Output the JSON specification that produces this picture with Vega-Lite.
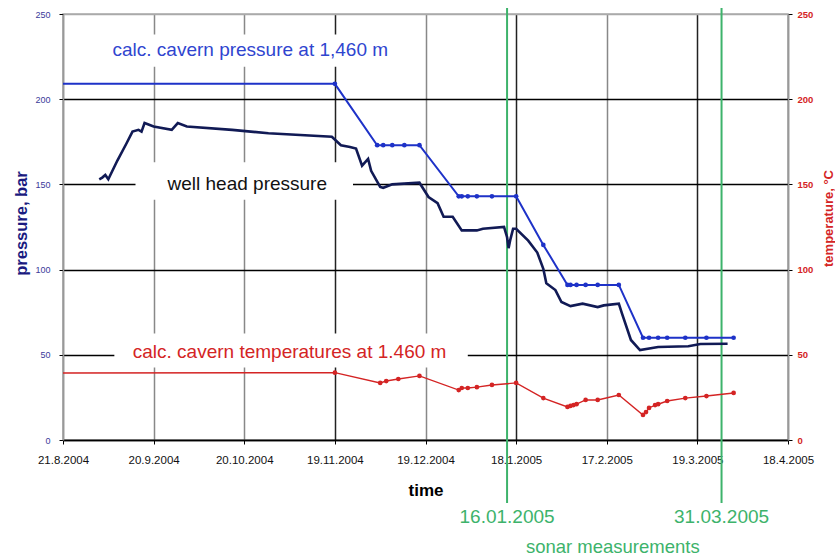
{
"$schema": "https://vega.github.io/schema/vega-lite/v6.json",
"width": 725,
"height": 426,
"autosize": {"type": "none"},
"padding": {"left": 63, "top": 14, "right": 47, "bottom": 118},
"background": "white",
"config": {
  "view": {"stroke": "#aaaaaa", "strokeWidth": 1.5},
  "font": "Liberation Sans",
  "axis": {"labelFont": "Liberation Sans", "titleFont": "Liberation Sans"},
  "text": {"font": "Liberation Sans"}
},
"data": {"values": [
{"series":"cavern","date":"2004-08-21","value":209},
{"series":"cavern","date":"2004-11-19","value":209},
{"series":"cavern","date":"2004-12-03","value":173},
{"series":"cavern","date":"2004-12-05","value":173},
{"series":"cavern","date":"2004-12-08","value":173},
{"series":"cavern","date":"2004-12-12","value":173},
{"series":"cavern","date":"2004-12-17","value":173},
{"series":"cavern","date":"2004-12-30","value":143},
{"series":"cavern","date":"2004-12-31","value":143},
{"series":"cavern","date":"2005-01-02","value":143},
{"series":"cavern","date":"2005-01-05","value":143},
{"series":"cavern","date":"2005-01-10","value":143},
{"series":"cavern","date":"2005-01-18","value":143},
{"series":"cavern","date":"2005-01-27","value":114.5},
{"series":"cavern","date":"2005-02-04","value":91},
{"series":"cavern","date":"2005-02-05","value":91},
{"series":"cavern","date":"2005-02-07","value":91},
{"series":"cavern","date":"2005-02-10","value":91},
{"series":"cavern","date":"2005-02-14","value":91},
{"series":"cavern","date":"2005-02-21","value":91},
{"series":"cavern","date":"2005-03-01","value":60},
{"series":"cavern","date":"2005-03-03","value":60},
{"series":"cavern","date":"2005-03-06","value":60},
{"series":"cavern","date":"2005-03-09","value":60},
{"series":"cavern","date":"2005-03-15","value":60},
{"series":"cavern","date":"2005-03-22","value":60},
{"series":"cavern","date":"2005-03-31","value":60},
{"series":"wellhead","date":"2004-09-02","value":153},
{"series":"wellhead","date":"2004-09-03","value":154},
{"series":"wellhead","date":"2004-09-04","value":155.5},
{"series":"wellhead","date":"2004-09-05","value":153},
{"series":"wellhead","date":"2004-09-08","value":164},
{"series":"wellhead","date":"2004-09-11","value":174},
{"series":"wellhead","date":"2004-09-13","value":181},
{"series":"wellhead","date":"2004-09-15","value":182},
{"series":"wellhead","date":"2004-09-16","value":181},
{"series":"wellhead","date":"2004-09-17","value":186},
{"series":"wellhead","date":"2004-09-20","value":184},
{"series":"wellhead","date":"2004-09-26","value":182},
{"series":"wellhead","date":"2004-09-28","value":186},
{"series":"wellhead","date":"2004-10-01","value":184},
{"series":"wellhead","date":"2004-10-16","value":182},
{"series":"wellhead","date":"2004-10-28","value":180},
{"series":"wellhead","date":"2004-11-18","value":178},
{"series":"wellhead","date":"2004-11-21","value":173},
{"series":"wellhead","date":"2004-11-24","value":172},
{"series":"wellhead","date":"2004-11-26","value":171},
{"series":"wellhead","date":"2004-11-28","value":161},
{"series":"wellhead","date":"2004-11-30","value":165},
{"series":"wellhead","date":"2004-12-01","value":158},
{"series":"wellhead","date":"2004-12-04","value":148.5},
{"series":"wellhead","date":"2004-12-05","value":148},
{"series":"wellhead","date":"2004-12-08","value":150},
{"series":"wellhead","date":"2004-12-17","value":151},
{"series":"wellhead","date":"2004-12-20","value":142.6},
{"series":"wellhead","date":"2004-12-23","value":139},
{"series":"wellhead","date":"2004-12-25","value":131},
{"series":"wellhead","date":"2004-12-28","value":131},
{"series":"wellhead","date":"2004-12-31","value":123},
{"series":"wellhead","date":"2005-01-05","value":123},
{"series":"wellhead","date":"2005-01-07","value":124},
{"series":"wellhead","date":"2005-01-14","value":125},
{"series":"wellhead","date":"2005-01-15","value":119},
{"series":"wellhead","date":"2005-01-15T12:00:00Z","value":112.6},
{"series":"wellhead","date":"2005-01-16","value":117},
{"series":"wellhead","date":"2005-01-17","value":124},
{"series":"wellhead","date":"2005-01-18","value":124},
{"series":"wellhead","date":"2005-01-22","value":117},
{"series":"wellhead","date":"2005-01-25","value":110},
{"series":"wellhead","date":"2005-01-27","value":100.5},
{"series":"wellhead","date":"2005-01-28","value":92},
{"series":"wellhead","date":"2005-01-31","value":88},
{"series":"wellhead","date":"2005-02-02","value":81},
{"series":"wellhead","date":"2005-02-05","value":78.6},
{"series":"wellhead","date":"2005-02-09","value":80},
{"series":"wellhead","date":"2005-02-14","value":78},
{"series":"wellhead","date":"2005-02-16","value":79},
{"series":"wellhead","date":"2005-02-21","value":80},
{"series":"wellhead","date":"2005-02-22","value":74.5},
{"series":"wellhead","date":"2005-02-25","value":58.7},
{"series":"wellhead","date":"2005-02-28","value":52.8},
{"series":"wellhead","date":"2005-03-06","value":54.6},
{"series":"wellhead","date":"2005-03-16","value":55},
{"series":"wellhead","date":"2005-03-20","value":56.3},
{"series":"wellhead","date":"2005-03-29","value":56.5},
{"series":"temperature","date":"2004-08-21","value":39.3},
{"series":"temperature","date":"2004-11-19","value":39.5},
{"series":"temperature","date":"2004-12-04","value":33.5},
{"series":"temperature","date":"2004-12-06","value":34.6},
{"series":"temperature","date":"2004-12-10","value":35.8},
{"series":"temperature","date":"2004-12-17","value":37.6},
{"series":"temperature","date":"2004-12-30","value":29.3},
{"series":"temperature","date":"2004-12-31","value":30.5},
{"series":"temperature","date":"2005-01-02","value":30.5},
{"series":"temperature","date":"2005-01-05","value":31},
{"series":"temperature","date":"2005-01-10","value":32.3},
{"series":"temperature","date":"2005-01-18","value":33.5},
{"series":"temperature","date":"2005-01-27","value":24.6},
{"series":"temperature","date":"2005-02-04","value":19.4},
{"series":"temperature","date":"2005-02-05","value":20},
{"series":"temperature","date":"2005-02-06","value":20.5},
{"series":"temperature","date":"2005-02-07","value":21},
{"series":"temperature","date":"2005-02-10","value":23.5},
{"series":"temperature","date":"2005-02-14","value":23.5},
{"series":"temperature","date":"2005-02-21","value":26.4},
{"series":"temperature","date":"2005-03-01","value":14.7},
{"series":"temperature","date":"2005-03-02","value":16.4},
{"series":"temperature","date":"2005-03-03","value":18.8},
{"series":"temperature","date":"2005-03-05","value":20.5},
{"series":"temperature","date":"2005-03-06","value":21},
{"series":"temperature","date":"2005-03-09","value":22.9},
{"series":"temperature","date":"2005-03-15","value":24.6},
{"series":"temperature","date":"2005-03-22","value":25.8},
{"series":"temperature","date":"2005-03-31","value":27.6}
]},
"layer": [
{
  "layer": [
    {
      "data": {"values": [{}]},
      "mark": {"type": "rect", "color": "white"},
      "encoding": {
        "x": {"datum": {"year":2004,"month":9,"date":2,"utc":true}, "type": "temporal"},
        "x2": {"datum": {"year":2004,"month":12,"date":10,"utc":true}},
        "y": {"datum": 219, "type": "quantitative"},
        "y2": {"datum": 238}
      }
    },
    {
      "data": {"values": [{}]},
      "mark": {"type": "rect", "color": "white"},
      "encoding": {
        "x": {"datum": {"year":2004,"month":9,"date":14,"utc":true}, "type": "temporal"},
        "x2": {"datum": {"year":2004,"month":11,"date":25,"utc":true}},
        "y": {"datum": 141, "type": "quantitative"},
        "y2": {"datum": 163}
      }
    },
    {
      "data": {"values": [{}]},
      "mark": {"type": "rect", "color": "white"},
      "encoding": {
        "x": {"datum": {"year":2004,"month":9,"date":7,"utc":true}, "type": "temporal"},
        "x2": {"datum": {"year":2005,"month":1,"date":2,"utc":true}},
        "y": {"datum": 42.5, "type": "quantitative"},
        "y2": {"datum": 62.5}
      }
    },
    {
      "data": {"values": [{}]},
      "mark": {"type": "rule", "color": "#3db36b", "strokeWidth": 2},
      "encoding": {
        "x": {"datum": {"year":2005,"month":1,"date":15,"utc":true}, "type": "temporal"},
        "y": {"datum": 253.5, "type": "quantitative", "scale": {"domain": [0, 250], "nice": false}},
        "y2": {"datum": -37}
      }
    },
    {
      "data": {"values": [{}]},
      "mark": {"type": "rule", "color": "#3db36b", "strokeWidth": 2},
      "encoding": {
        "x": {"datum": {"year":2005,"month":3,"date":27,"utc":true}, "type": "temporal"},
        "y": {"datum": 253.5, "type": "quantitative"},
        "y2": {"datum": -37}
      }
    },
    {
      "data": {"values": [{}]},
      "mark": {"type": "text", "text": "calc. cavern pressure at 1,460 m", "color": "#2f45cf", "fontSize": 19, "align": "center", "baseline": "middle"},
      "encoding": {
        "x": {"datum": {"year":2004,"month":10,"date":22,"utc":true}, "type": "temporal"},
        "y": {"datum": 229, "type": "quantitative"}
      }
    },
    {
      "data": {"values": [{}]},
      "mark": {"type": "text", "text": "well head pressure", "color": "#111111", "fontSize": 19, "align": "center", "baseline": "middle"},
      "encoding": {
        "x": {"datum": {"year":2004,"month":10,"date":21,"utc":true}, "type": "temporal"},
        "y": {"datum": 150, "type": "quantitative"}
      }
    },
    {
      "data": {"values": [{}]},
      "mark": {"type": "text", "text": "calc. cavern temperatures at 1.460 m", "color": "#d42424", "fontSize": 19, "align": "center", "baseline": "middle"},
      "encoding": {
        "x": {"datum": {"year":2004,"month":11,"date":4,"utc":true}, "type": "temporal"},
        "y": {"datum": 51.5, "type": "quantitative"}
      }
    },
    {
      "data": {"values": [{}]},
      "mark": {"type": "text", "text": "16.01.2005", "color": "#3db36b", "fontSize": 19, "align": "center", "baseline": "middle"},
      "encoding": {
        "x": {"datum": {"year":2005,"month":1,"date":15,"utc":true}, "type": "temporal"},
        "y": {"datum": -45, "type": "quantitative"}
      }
    },
    {
      "data": {"values": [{}]},
      "mark": {"type": "text", "text": "31.03.2005", "color": "#3db36b", "fontSize": 19, "align": "center", "baseline": "middle"},
      "encoding": {
        "x": {"datum": {"year":2005,"month":3,"date":27,"utc":true}, "type": "temporal"},
        "y": {"datum": -45, "type": "quantitative"}
      }
    },
    {
      "data": {"values": [{}]},
      "mark": {"type": "text", "text": "sonar measurements", "color": "#3db36b", "fontSize": 18.5, "align": "center", "baseline": "middle"},
      "encoding": {
        "x": {"datum": {"year":2005,"month":2,"date":19,"utc":true}, "type": "temporal"},
        "y": {"datum": -63, "type": "quantitative"}
      }
    },
    {
      "transform": [{"filter": "datum.series === 'cavern'"}],
      "mark": {"type": "line", "color": "#1e32c8", "strokeWidth": 2},
      "encoding": {
        "x": {
          "field": "date", "type": "temporal",
          "scale": {"type": "utc", "nice": false, "domain": [{"year":2004,"month":8,"date":21,"utc":true}, {"year":2005,"month":4,"date":18,"utc":true}]},
          "axis": {
            "values": [
              {"year":2004,"month":8,"date":21,"utc":true},
              {"year":2004,"month":9,"date":20,"utc":true},
              {"year":2004,"month":10,"date":20,"utc":true},
              {"year":2004,"month":11,"date":19,"utc":true},
              {"year":2004,"month":12,"date":19,"utc":true},
              {"year":2005,"month":1,"date":18,"utc":true},
              {"year":2005,"month":2,"date":17,"utc":true},
              {"year":2005,"month":3,"date":19,"utc":true},
              {"year":2005,"month":4,"date":18,"utc":true}
            ],
            "format": "%-d.%-m.%Y",
            "labelFontSize": 11.5,
            "labelColor": "#111111",
            "labelPadding": 10,
            "labelFlush": false,
            "labelOverlap": false,
            "tickSize": 4,
            "tickColor": "#000000",
            "domainColor": "#000000",
            "domainWidth": 1.5,
            "grid": true,
            "gridColor": {"condition": {"test": "utcmonth(datum.value)==10 || utcmonth(datum.value)==0 || utcmonth(datum.value)==2", "value": "#222222"}, "value": "#888888"},
            "gridWidth": 1.5,
            "title": "time",
            "titleFontSize": 17,
            "titleFontWeight": "bold",
            "titleColor": "#000000",
            "titleY": 55,
            "titleBaseline": "alphabetic"
          }
        },
        "y": {
          "field": "value", "type": "quantitative",
          "scale": {"domain": [0, 250], "nice": false, "zero": false},
          "axis": {
            "orient": "left",
            "values": [0, 50, 100, 150, 200, 250],
            "labelFontSize": 9,
            "labelColor": "#3a3a9a",
            "labelPadding": 9,
            "tickSize": 4,
            "tickColor": "#000000",
            "domainColor": "#999999",
            "domainWidth": 1.5,
            "grid": true,
            "gridColor": {"condition": {"test": "datum.value == 250", "value": "#aaaaaa"}, "value": "#000000"},
            "gridWidth": 1.5,
            "title": "pressure, bar",
            "titleFontSize": 16.5,
            "titleFontWeight": "bold",
            "titleColor": "#1a1a80",
            "titleX": -42,
            "titleY": 209,
            "titleAngle": 270,
            "titleAlign": "center",
            "titleBaseline": "middle"
          }
        }
      }
    },
    {
      "transform": [{"filter": "datum.series === 'wellhead'"}],
      "mark": {"type": "line", "color": "#111a55", "strokeWidth": 2.6},
      "encoding": {
        "x": {"field": "date", "type": "temporal"},
        "y": {"field": "value", "type": "quantitative"}
      }
    },
    {
      "transform": [{"filter": {"and": [{"field": "series", "equal": "cavern"}, {"field": "date", "gt": {"year":2004,"month":11,"date":1,"utc":true}}]}}],
      "mark": {"type": "point", "filled": true, "size": 22, "color": "#1e32c8", "opacity": 1},
      "encoding": {
        "x": {"field": "date", "type": "temporal"},
        "y": {"field": "value", "type": "quantitative"}
      }
    }
  ]
},
{
  "transform": [{"filter": "datum.series === 'temperature'"}],
  "layer": [
    {
      "mark": {"type": "line", "color": "#d42424", "strokeWidth": 1.4},
      "encoding": {
        "x": {"field": "date", "type": "temporal"},
        "y": {
          "field": "value", "type": "quantitative",
          "scale": {"domain": [0, 250], "nice": false, "zero": false},
          "axis": {
            "orient": "right",
            "values": [0, 50, 100, 150, 200, 250],
            "labelFontSize": 9.5,
            "labelFontWeight": "bold",
            "labelColor": "#d42424",
            "labelPadding": 5,
            "tickSize": 4,
            "tickColor": "#000000",
            "domainColor": "#999999",
            "domainWidth": 1.5,
            "grid": false,
            "title": "temperature, °C",
            "titleFontSize": 13,
            "titleFontWeight": "bold",
            "titleColor": "#d42424",
            "titleX": 40,
            "titleY": 204,
            "titleAngle": 270,
            "titleAlign": "center",
            "titleBaseline": "middle"
          }
        }
      }
    },
    {
      "transform": [{"filter": {"field": "date", "gt": {"year":2004,"month":11,"date":1,"utc":true}}}],
      "mark": {"type": "point", "filled": true, "size": 22, "color": "#d42424", "opacity": 1},
      "encoding": {
        "x": {"field": "date", "type": "temporal"},
        "y": {"field": "value", "type": "quantitative"}
      }
    }
  ]
}
],
"resolve": {"scale": {"y": "independent"}, "axis": {"y": "independent"}}
}
